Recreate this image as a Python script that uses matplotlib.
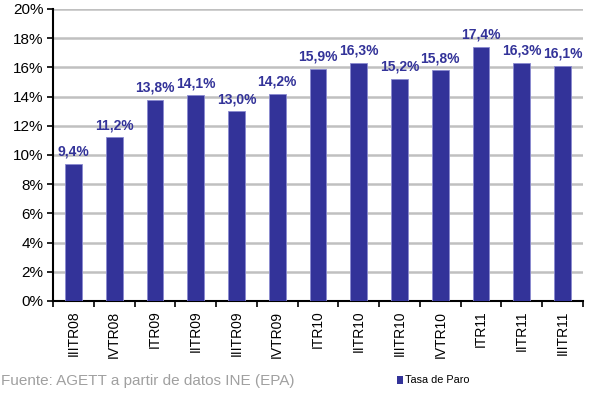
import matplotlib

matplotlib.use("Agg")

import matplotlib.pyplot as plt
import numpy as np
from matplotlib.patches import Rectangle

plt.rcParams["font.family"] = ["Liberation Sans", "DejaVu Sans"]

quarters = ["IIITR08", "IVTR08", "ITR09", "IITR09", "IIITR09", "IVTR09", "ITR10",
            "IITR10", "IIITR10", "IVTR10", "ITR11", "IITR11", "IIITR11"]
tasa_paro = [9.4, 11.2, 13.8, 14.1, 13.0, 14.2, 15.9, 16.3, 15.2, 15.8, 17.4, 16.3, 16.1]
yticks = [0, 2, 4, 6, 8, 10, 12, 14, 16, 18, 20]

BAR = "#333399"

fig = plt.figure(figsize=(5.91, 3.94), dpi=100)
ax = fig.add_axes([53 / 591, 93 / 394, 530 / 591, 292 / 394])

x = np.arange(len(quarters))
ax.bar(x, tasa_paro, width=0.41, color=BAR, edgecolor="#8a8ad0", linewidth=0.6, zorder=3)
for xi, v in zip(x, tasa_paro):
    ax.text(xi, v + 0.35, f"{v:.1f}%".replace(".", ","), ha="center", va="bottom",
            fontsize=10, fontweight="bold", color=BAR, zorder=4)

ax.set_xlim(-0.5, len(quarters) - 0.5)
ax.set_ylim(0, 20)
ax.set_yticks(yticks)
ax.set_yticklabels([f"{t}%" for t in yticks], fontsize=11)
ax.yaxis.grid(True, color="#c0c0c0", linewidth=1.8, zorder=0)
ax.set_axisbelow(True)

ax.set_xticks(x)
ax.set_xticklabels(quarters, rotation=90, fontsize=10)
ax.tick_params(axis="x", length=0, pad=7)
ax.set_xticks(np.arange(-0.5, len(quarters)), minor=True)
ax.tick_params(axis="x", which="minor", length=4, width=1.2, direction="out")
ax.tick_params(axis="y", length=4, width=1.2, direction="out", pad=3)

for side in ("top", "right"):
    ax.spines[side].set_visible(False)
for side in ("left", "bottom"):
    ax.spines[side].set_linewidth(1.5)

fig.text(1 / 591, 1 - 381 / 394, "Fuente: AGETT a partir de datos INE (EPA)",
         fontsize=11, color="#a0a0a0", va="center", ha="left")
fig.patches.append(Rectangle((397 / 591, 1 - 384 / 394), 6 / 591, 8 / 394,
                             transform=fig.transFigure, facecolor=BAR, edgecolor="none"))
fig.text(405 / 591, 1 - 380 / 394, "Tasa de Paro", fontsize=7.8, color="black",
         va="center", ha="left")

fig.savefig("out.png", dpi=100)
